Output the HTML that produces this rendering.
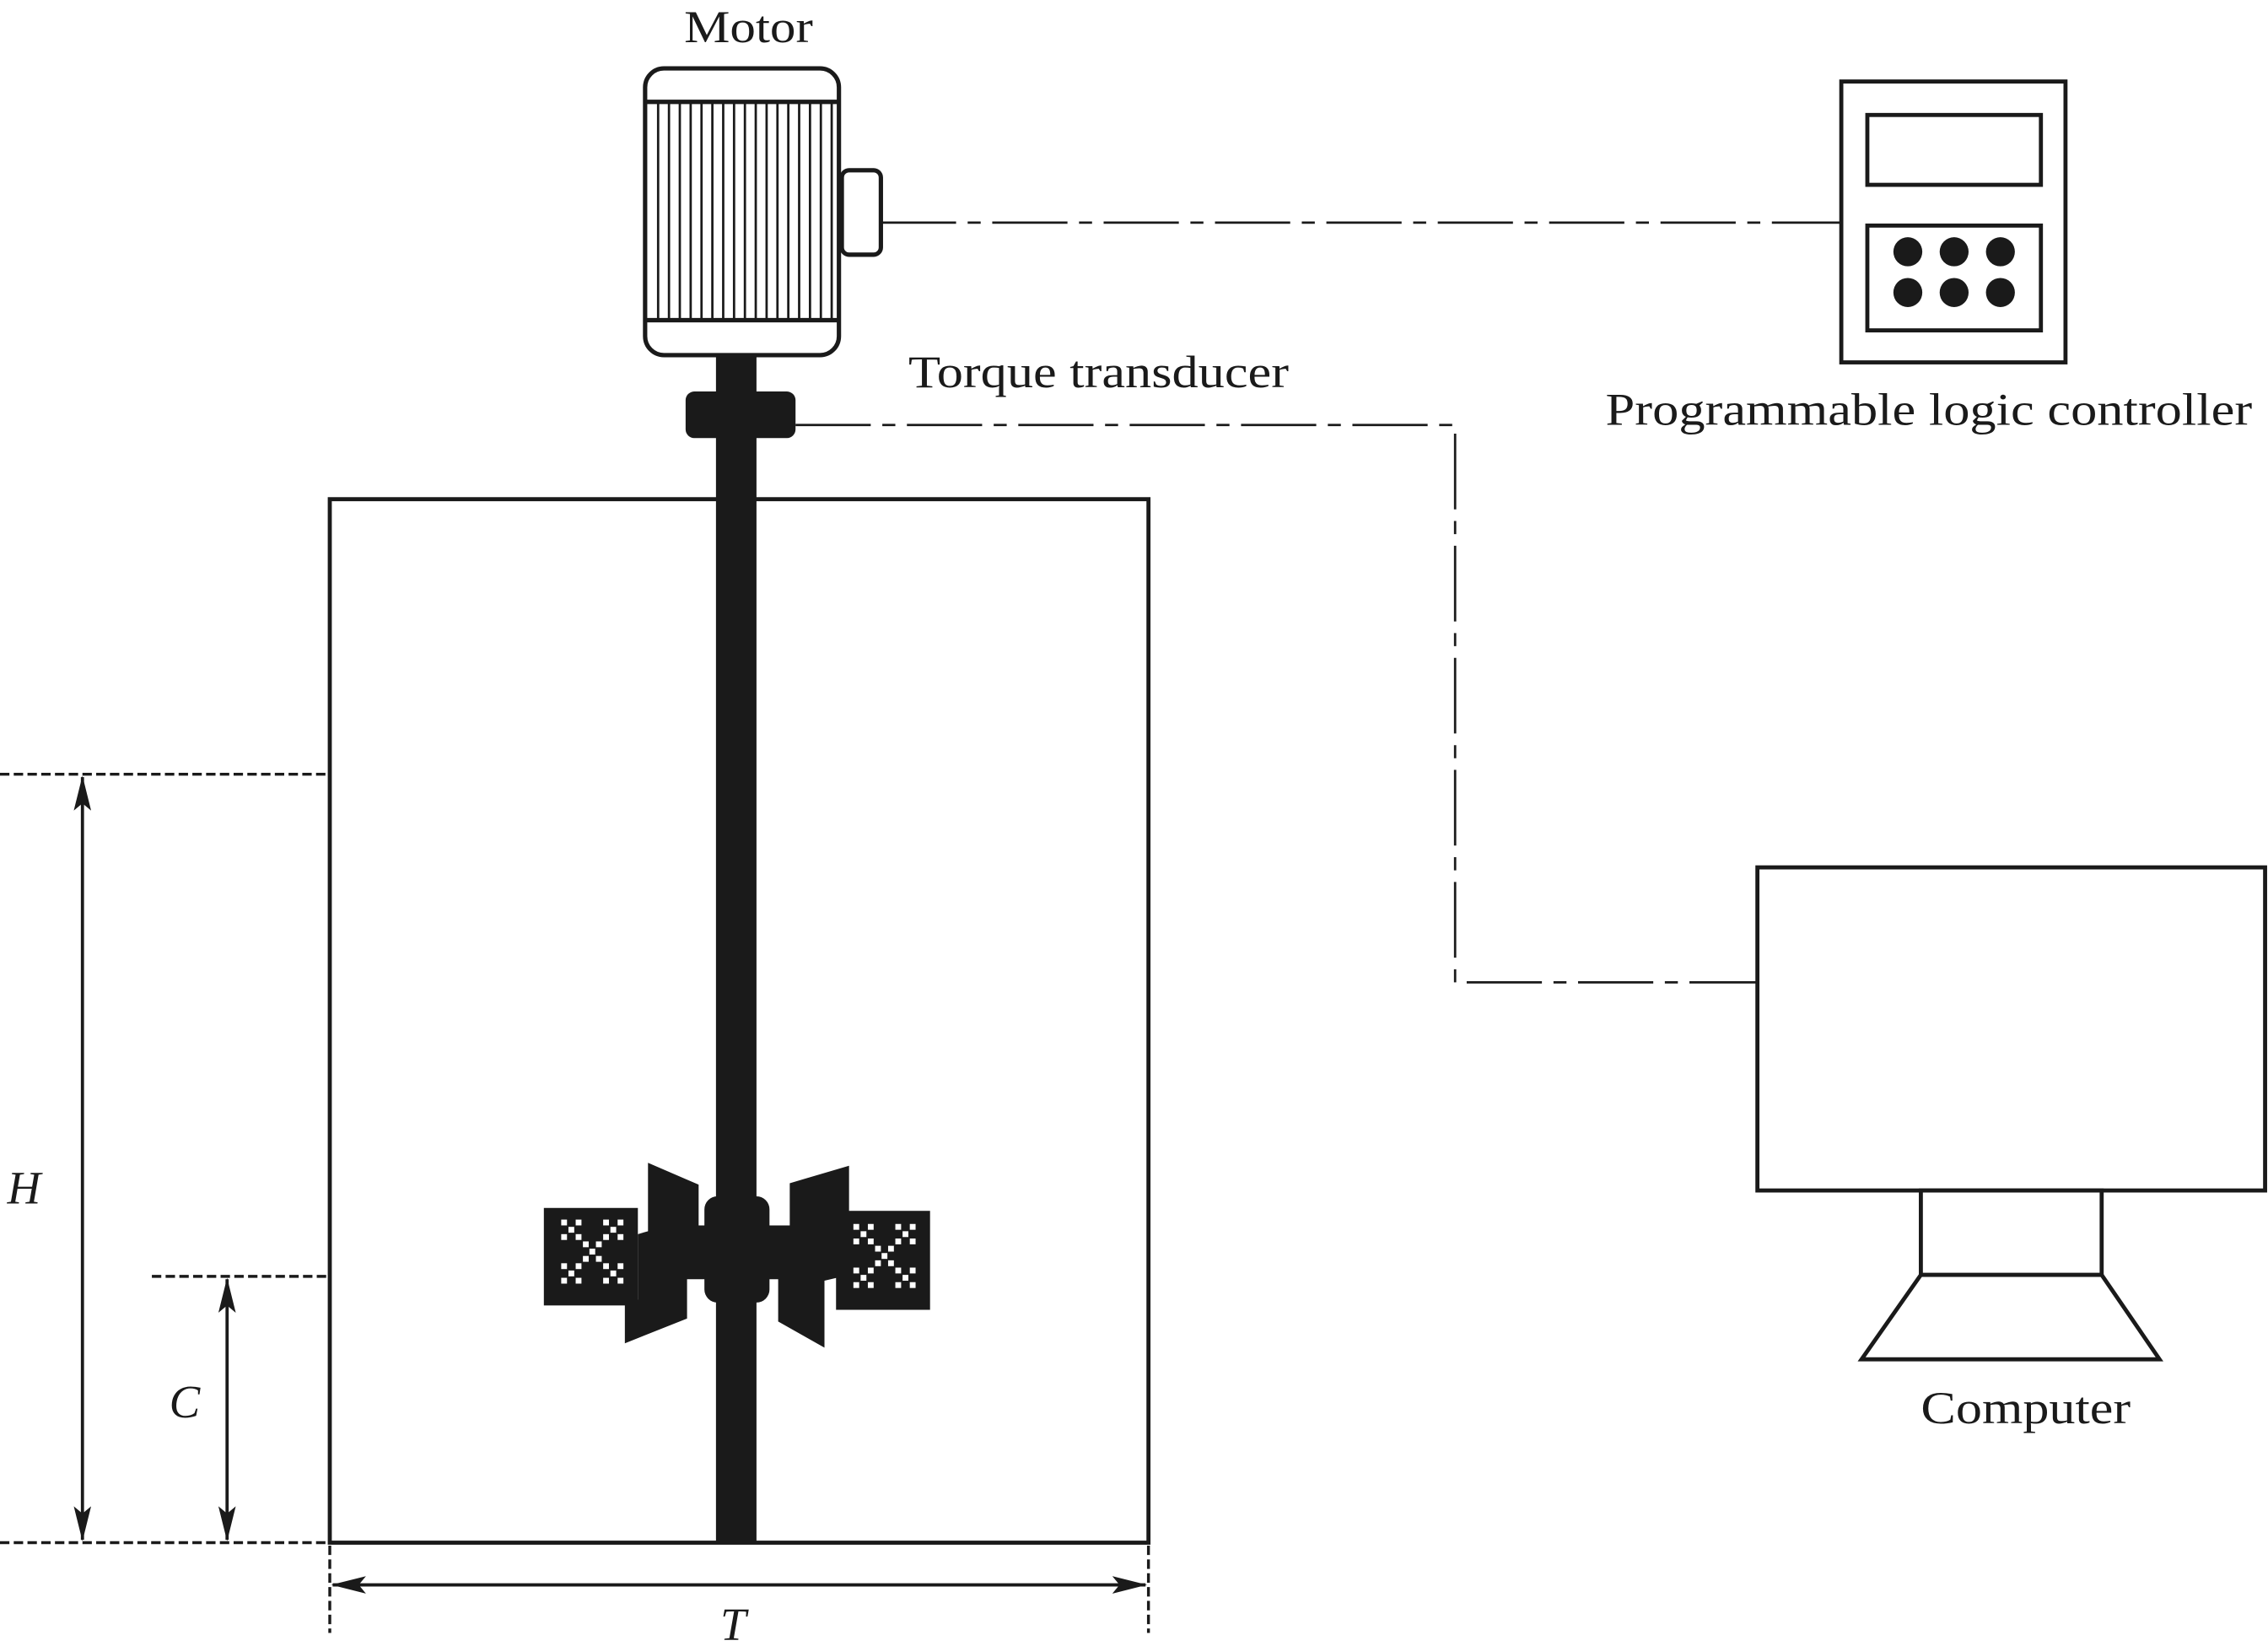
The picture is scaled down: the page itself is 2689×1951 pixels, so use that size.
<!DOCTYPE html>
<html><head><meta charset="utf-8"><style>
html,body{margin:0;padding:0;background:#fff;}
svg{display:block;}
text{font-family:"Liberation Serif",serif;fill:#1a1a1a;}
</style></head><body>
<svg width="2689" height="1951" viewBox="0 0 1568 1131" preserveAspectRatio="none" xmlns="http://www.w3.org/2000/svg">
<defs>
<marker id="ah" viewBox="0 0 24 12" refX="23" refY="6" markerWidth="24" markerHeight="12" markerUnits="userSpaceOnUse" orient="auto-start-reverse">
<path d="M0,0 L24,6 L0,12 L5,6 Z" fill="#1a1a1a"/>
</marker>
</defs>
<g stroke="#1a1a1a" fill="none">
<!-- Motor -->
<rect x="446" y="47" width="134" height="197" rx="13" stroke-width="3"/>
<line x1="447" y1="70" x2="579" y2="70" stroke-width="3"/>
<line x1="447" y1="220" x2="579" y2="220" stroke-width="3"/>
<g stroke-width="1.6">
<line x1="455" y1="70" x2="455" y2="220"/><line x1="462.5" y1="70" x2="462.5" y2="220"/>
<line x1="470" y1="70" x2="470" y2="220"/><line x1="477.5" y1="70" x2="477.5" y2="220"/>
<line x1="485" y1="70" x2="485" y2="220"/><line x1="492.5" y1="70" x2="492.5" y2="220"/>
<line x1="500" y1="70" x2="500" y2="220"/><line x1="507.5" y1="70" x2="507.5" y2="220"/>
<line x1="515" y1="70" x2="515" y2="220"/><line x1="522.5" y1="70" x2="522.5" y2="220"/>
<line x1="530" y1="70" x2="530" y2="220"/><line x1="537.5" y1="70" x2="537.5" y2="220"/>
<line x1="545" y1="70" x2="545" y2="220"/><line x1="552.5" y1="70" x2="552.5" y2="220"/>
<line x1="560" y1="70" x2="560" y2="220"/><line x1="567.5" y1="70" x2="567.5" y2="220"/>
<line x1="575" y1="70" x2="575" y2="220"/>
</g>
<rect x="582" y="117" width="27" height="58" rx="5" stroke-width="3"/>
<!-- tank -->
<rect x="228" y="343" width="566" height="717" stroke-width="2.8"/>
<!-- dashed dims -->
<g stroke-width="2" stroke-dasharray="6.5 3">
<line x1="0" y1="532" x2="228" y2="532"/>
<line x1="105" y1="877" x2="228" y2="877"/>
<line x1="0" y1="1060" x2="228" y2="1060"/>
<line x1="228" y1="1062" x2="228" y2="1122"/>
<line x1="794" y1="1062" x2="794" y2="1122"/>
</g>
<g stroke-width="2.2">
<line x1="57" y1="534" x2="57" y2="1058" marker-start="url(#ah)" marker-end="url(#ah)"/>
<line x1="157" y1="879" x2="157" y2="1058" marker-start="url(#ah)" marker-end="url(#ah)"/>
<line x1="230" y1="1089" x2="792" y2="1089" marker-start="url(#ah)" marker-end="url(#ah)"/>
</g>
<!-- dash-dot connectors -->
<g stroke-width="1.6" stroke-dasharray="52 8 9 8">
<line x1="609" y1="153" x2="1273" y2="153"/>
<polyline points="550,292 1006,292 1006,675 1215,675"/>
</g>
<!-- PLC -->
<rect x="1273" y="56" width="155" height="193" stroke-width="2.8"/>
<rect x="1291" y="79" width="120" height="48" stroke-width="2.8"/>
<rect x="1291" y="155" width="120" height="72" stroke-width="2.8"/>
<!-- Computer -->
<rect x="1215" y="596" width="351" height="222" stroke-width="2.8"/>
<rect x="1328" y="818" width="125" height="58" stroke-width="2.8"/>
<polygon points="1328,876 1453,876 1493,934 1287,934" stroke-width="2.8"/>
</g>
<g fill="#1a1a1a">
<circle cx="1319" cy="173" r="10"/><circle cx="1351" cy="173" r="10"/><circle cx="1383" cy="173" r="10"/>
<circle cx="1319" cy="201" r="10"/><circle cx="1351" cy="201" r="10"/><circle cx="1383" cy="201" r="10"/>
<!-- shaft -->
<rect x="495" y="244" width="28" height="817"/>
<rect x="474" y="269" width="76" height="32" rx="6"/>
<!-- impeller -->
<rect x="487" y="822" width="45" height="73" rx="9"/>
<polygon points="448,799 483,814 483,842 495,842 495,879 475,879 475,906 432,923 432,893 441,893 441,848 448,846"/>
<polygon points="546,813 587,801 587,876 570,880 570,926 538,908 538,879 524,879 524,842 546,842"/>
<rect x="376" y="830" width="65" height="67"/>
<rect x="578" y="832" width="65" height="68"/>
</g>
<g fill="#fff">
<g transform="translate(388,838)">
<rect x="0" y="0" width="4" height="4"/><rect x="10" y="0" width="4" height="4"/><rect x="29" y="0" width="4" height="4"/><rect x="39" y="0" width="4" height="4"/>
<rect x="5" y="5" width="4" height="4"/><rect x="34" y="5" width="4" height="4"/>
<rect x="0" y="10" width="4" height="4"/><rect x="10" y="10" width="4" height="4"/><rect x="29" y="10" width="4" height="4"/><rect x="39" y="10" width="4" height="4"/>
<rect x="15" y="15" width="4" height="4"/><rect x="24" y="15" width="4" height="4"/>
<rect x="19.5" y="20" width="4" height="4"/>
<rect x="15" y="25" width="4" height="4"/><rect x="24" y="25" width="4" height="4"/>
<rect x="0" y="30" width="4" height="4"/><rect x="10" y="30" width="4" height="4"/><rect x="29" y="30" width="4" height="4"/><rect x="39" y="30" width="4" height="4"/>
<rect x="5" y="35" width="4" height="4"/><rect x="34" y="35" width="4" height="4"/>
<rect x="0" y="40" width="4" height="4"/><rect x="10" y="40" width="4" height="4"/><rect x="29" y="40" width="4" height="4"/><rect x="39" y="40" width="4" height="4"/>
</g>
<g transform="translate(590,841)">
<rect x="0" y="0" width="4" height="4"/><rect x="10" y="0" width="4" height="4"/><rect x="29" y="0" width="4" height="4"/><rect x="39" y="0" width="4" height="4"/>
<rect x="5" y="5" width="4" height="4"/><rect x="34" y="5" width="4" height="4"/>
<rect x="0" y="10" width="4" height="4"/><rect x="10" y="10" width="4" height="4"/><rect x="29" y="10" width="4" height="4"/><rect x="39" y="10" width="4" height="4"/>
<rect x="15" y="15" width="4" height="4"/><rect x="24" y="15" width="4" height="4"/>
<rect x="19.5" y="20" width="4" height="4"/>
<rect x="15" y="25" width="4" height="4"/><rect x="24" y="25" width="4" height="4"/>
<rect x="0" y="30" width="4" height="4"/><rect x="10" y="30" width="4" height="4"/><rect x="29" y="30" width="4" height="4"/><rect x="39" y="30" width="4" height="4"/>
<rect x="5" y="35" width="4" height="4"/><rect x="34" y="35" width="4" height="4"/>
<rect x="0" y="40" width="4" height="4"/><rect x="10" y="40" width="4" height="4"/><rect x="29" y="40" width="4" height="4"/><rect x="39" y="40" width="4" height="4"/>
</g>
</g>
<!-- labels -->
<text x="473" y="29" font-size="31" textLength="89" lengthAdjust="spacingAndGlyphs">Motor</text>
<text x="628" y="266" font-size="31" textLength="263" lengthAdjust="spacingAndGlyphs">Torque transducer</text>
<text x="1110" y="292" font-size="31" textLength="447" lengthAdjust="spacingAndGlyphs">Programmable logic controller</text>
<text x="1328" y="978" font-size="31" textLength="145" lengthAdjust="spacingAndGlyphs">Computer</text>
<text x="5" y="827" font-size="32" font-style="italic">H</text>
<text x="117" y="974" font-size="32" font-style="italic">C</text>
<text x="498" y="1127" font-size="32" font-style="italic">T</text>
</svg>
</body></html>
